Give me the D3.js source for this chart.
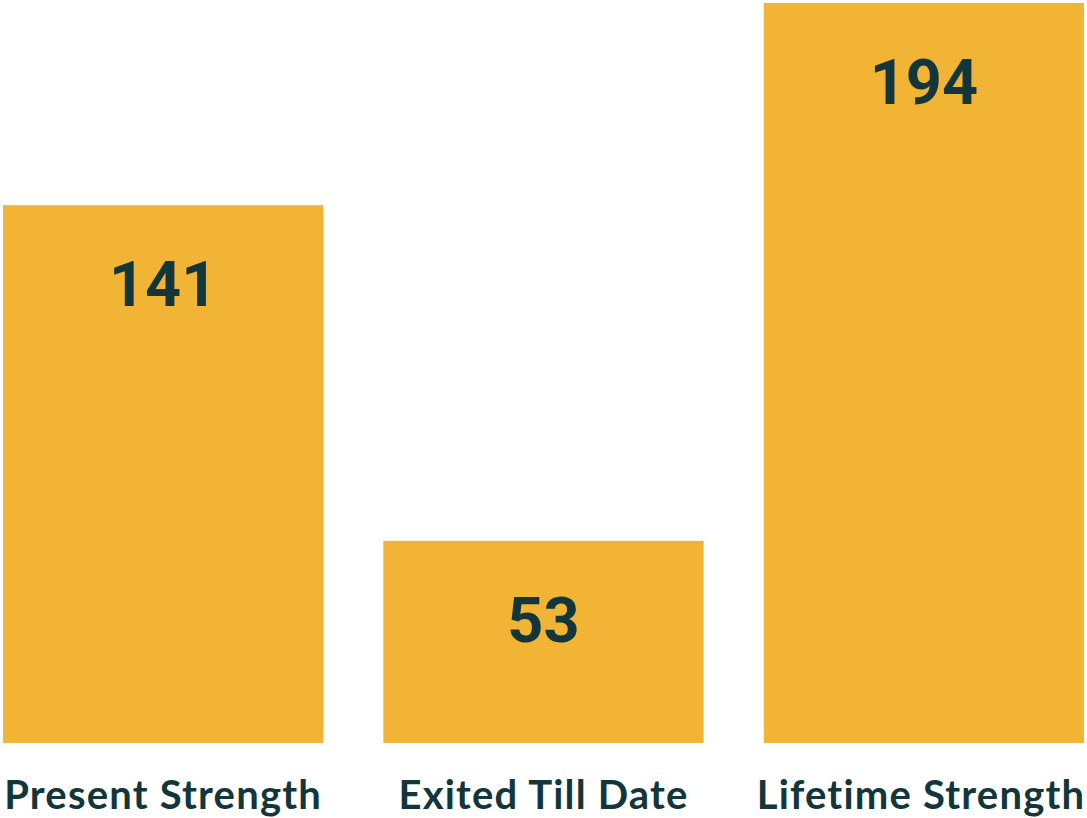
<!DOCTYPE html>
<html>
<head>
<meta charset="utf-8">
<script src="https://cdn.jsdelivr.net/npm/d3@7"></script>
<style>
  html, body { margin: 0; padding: 0; background: #ffffff; }
  svg { display: block; }
</style>
</head>
<body>
<script>
const categories = ["Present Strength", "Exited Till Date", "Lifetime Strength"];
const values = [141, 53, 194];

const W = 1087, H = 818;
const svg = d3.select("body").append("svg").attr("width", W).attr("height", H);

const x = d3.scaleBand().domain(categories).range([3, 1084]).paddingInner(0.158).paddingOuter(0);
const y = d3.scaleLinear().domain([0, d3.max(values)]).range([743, 3]);

const data = categories.map((c, i) => ({ c, v: values[i] }));

svg.selectAll("rect.bar").data(data).enter().append("rect")
  .attr("class", "bar")
  .attr("x", d => x(d.c))
  .attr("width", x.bandwidth())
  .attr("y", d => y(d.v))
  .attr("height", d => y(0) - y(d.v))
  .attr("fill", "#F1B434");

svg.selectAll("text.val").data(data).enter().append("text")
  .attr("class", "val")
  .attr("x", d => x(d.c) + x.bandwidth() / 2)
  .attr("y", d => y(d.v) + 101)
  .attr("text-anchor", "middle")
  .attr("font-family", "Roboto, sans-serif")
  .attr("font-weight", 700)
  .attr("font-size", 63)
  .attr("fill", "#12363A")
  .text(d => d.v);

svg.selectAll("text.cat").data(data).enter().append("text")
  .attr("class", "cat")
  .attr("x", d => Math.min(x(d.c) + x.bandwidth() / 2, W - 166))
  .attr("y", 809)
  .attr("text-anchor", "middle")
  .attr("font-family", "Lato, sans-serif")
  .attr("font-weight", 700)
  .attr("font-size", 40)
  .attr("letter-spacing", 1.2)
  .attr("fill", "#12363A")
  .text(d => d.c);
</script>
</body>
</html>
